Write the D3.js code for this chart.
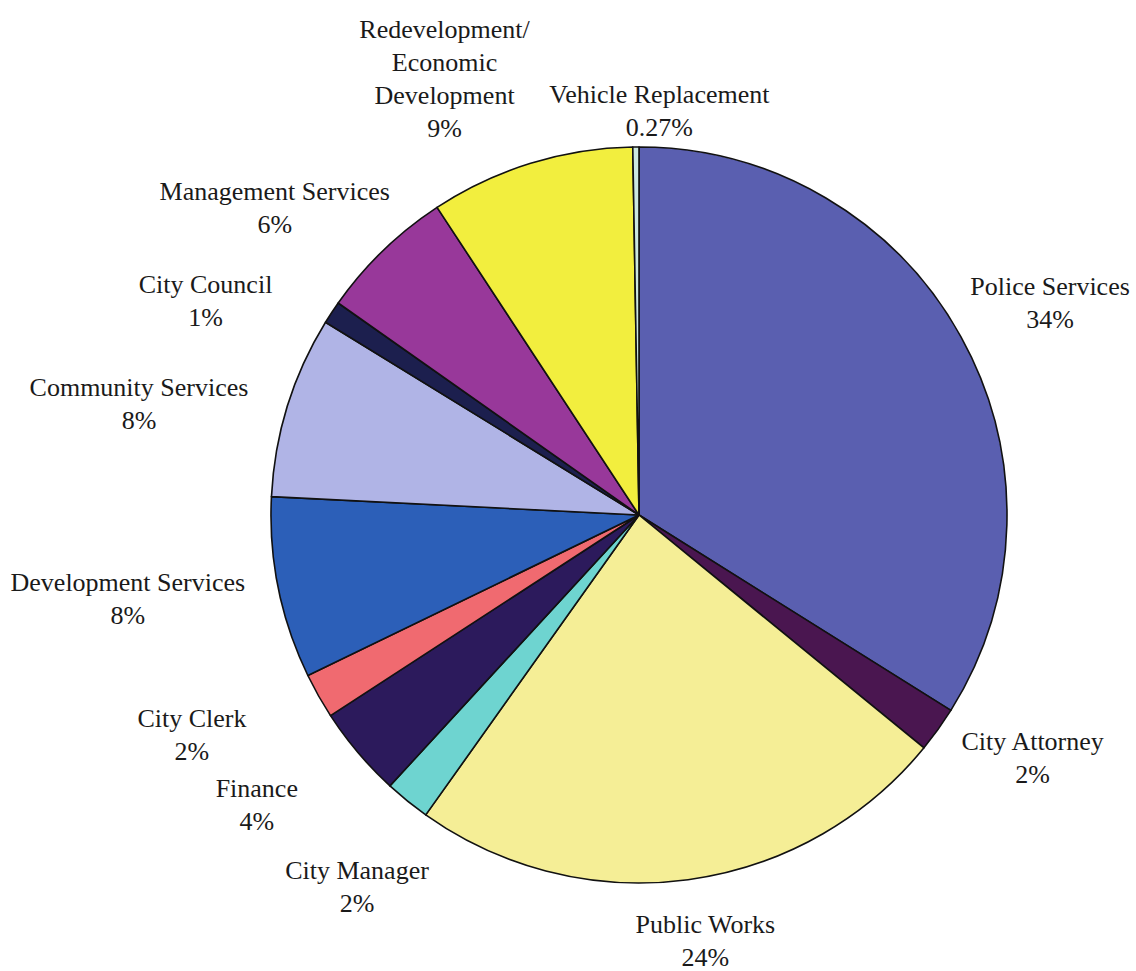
<!DOCTYPE html>
<html>
<head>
<meta charset="utf-8">
<script src="https://cdn.jsdelivr.net/npm/d3@7"></script>
<style>
  html, body { margin: 0; padding: 0; background: #ffffff; }
  svg { display: block; }
  text { font-family: "Liberation Serif", "Times New Roman", serif; fill: #1a1a1a; }
</style>
</head>
<body>
<svg id="chart" width="1136" height="971"></svg>
<script>
// Budget share by department, clockwise from 12 o'clock
const departments = [
  "Police Services", "City Attorney", "Public Works", "City Manager", "Finance",
  "City Clerk", "Development Services", "Community Services", "City Council",
  "Management Services", "Redevelopment/\nEconomic\nDevelopment", "Vehicle Replacement"
];
const shares = [34, 2, 24, 2, 4, 2, 8, 8, 1, 6, 9, 0.27];
const shareLabels = ["34%", "2%", "24%", "2%", "4%", "2%", "8%", "8%", "1%", "6%", "9%", "0.27%"];
const sliceColors = [
  "#5a5fb0", "#4a1650", "#f5ee96", "#6ed4d0", "#2c1a5c", "#f06a70",
  "#2c5fb8", "#b0b4e6", "#1c1f4e", "#98389a", "#f2ee3e", "#cce8e0"
];

// Small hand adjustments for label placement (px)
const labelNudge = {
  "Police Services": [0, -8],
  "City Attorney": [19, -2],
  "Public Works": [5, 9],
  "City Manager": [9, 45],
  "Finance": [-53, 18],
  "City Clerk": [-60, 13],
  "Development Services": [-14, 0],
  "Community Services": [-23, 14],
  "City Council": [-52, 18],
  "Management Services": [-13, -4],
  "Redevelopment/\nEconomic\nDevelopment": [-54, -2],
  "Vehicle Replacement": [25, 17]
};

const cx = 639, cy = 515, radius = 368;
const fontSize = 26, lineHeight = 33, labelGap = 22;

const svg = d3.select("#chart");
const g = svg.append("g").attr("transform", `translate(${cx},${cy})`);

const rows = departments.map((name, i) => ({
  name, value: shares[i], label: shareLabels[i], color: sliceColors[i]
}));

const pie = d3.pie().value(d => d.value).sort(null);
const arc = d3.arc().innerRadius(0).outerRadius(radius);
const arcs = pie(rows);

g.selectAll("path.slice")
  .data(arcs)
  .join("path")
  .attr("class", "slice")
  .attr("d", arc)
  .attr("fill", d => d.data.color)
  .attr("stroke", "#111")
  .attr("stroke-width", 1.6)
  .attr("stroke-linejoin", "round");

// Labels: the text block sits just outside the rim, pushed outward along the mid-angle
const labels = g.selectAll("g.label")
  .data(arcs)
  .join("g")
  .attr("class", "label");

labels.each(function (d) {
  const lines = d.data.name.split("\n").concat([d.data.label]);
  const t = d3.select(this).append("text")
    .attr("text-anchor", "middle")
    .attr("font-size", fontSize);
  lines.forEach((ln, k) => {
    t.append("tspan").attr("x", 0).attr("y", k * lineHeight).text(ln);
  });
  const bb = t.node().getBBox();
  const a = (d.startAngle + d.endAngle) / 2;
  const sx = Math.sin(a), sy = -Math.cos(a);
  const ax = sx * (radius + labelGap), ay = sy * (radius + labelGap);
  const hw = bb.width / 2, hh = bb.height / 2;
  const bcx = bb.x + hw, bcy = bb.y + hh;
  const nudge = labelNudge[d.data.name] || [0, 0];
  const tx = ax + sx * hw - bcx + nudge[0];
  const ty = ay + sy * hh - bcy + nudge[1];
  d3.select(this).attr("transform", `translate(${tx},${ty})`);
});
</script>
</body>
</html>
